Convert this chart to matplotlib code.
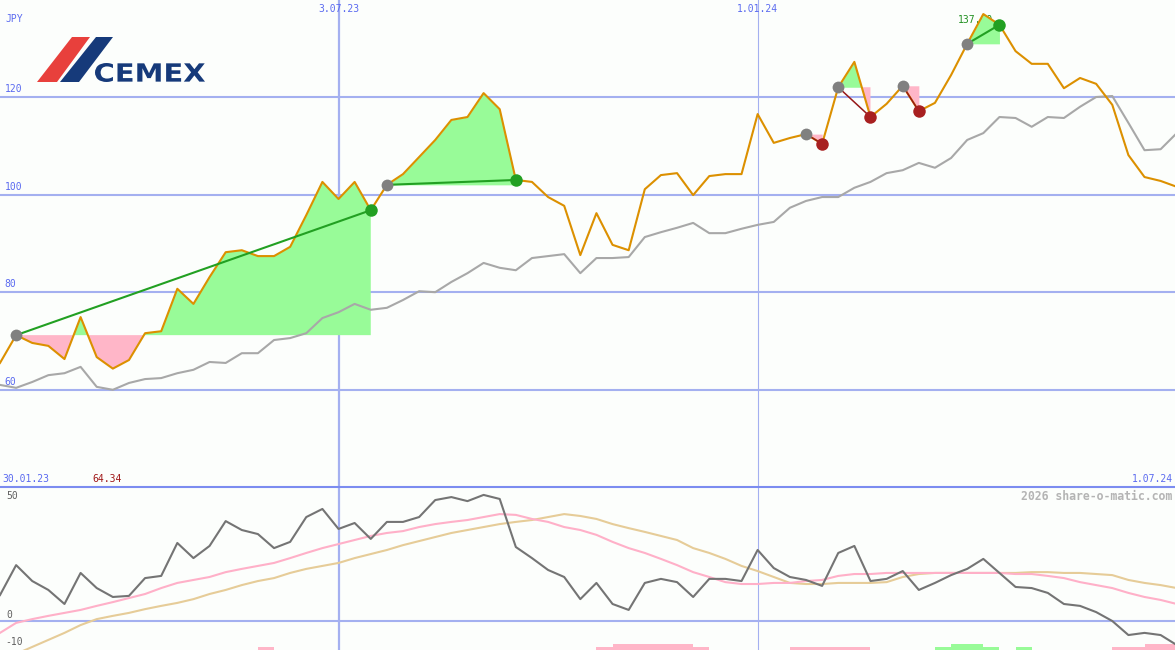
import matplotlib
matplotlib.use("Agg")
import matplotlib.pyplot as plt
import matplotlib.transforms as mtransforms
from matplotlib.patches import Polygon, PathPatch
from matplotlib.textpath import TextPath
from matplotlib.font_manager import FontProperties
import numpy as np

# weekly closes (JPY), one per week starting 6.02.23
price = [65.5, 71.2, 69.6, 69.0, 66.3, 74.9, 66.7, 64.34, 66.1, 71.6,
         72.0, 80.7, 77.6, 83.1, 88.2, 88.6, 87.4, 87.4, 89.3, 95.8,
         102.6, 99.1, 102.6, 96.8, 102.0, 104.2, 107.7, 111.2, 115.3, 115.9,
         120.8, 117.5, 103.0, 102.6, 99.5, 97.7, 87.6, 96.2, 89.7, 88.6,
         101.1, 104.0, 104.4, 99.9, 103.8, 104.2, 104.2, 116.5, 110.6, 111.6,
         112.4, 110.4, 122.0, 127.2, 115.9, 118.6, 122.3, 117.1, 118.8, 124.5,
         130.9, 137.0, 134.8, 129.4, 126.8, 126.8, 121.8, 123.9, 122.7, 118.4,
         108.1, 103.6, 102.8, 101.6]

# moving average (grey line)
avg = [61.0, 60.4, 61.6, 63.0, 63.4, 64.7, 60.6, 60.0, 61.4, 62.2,
       62.4, 63.4, 64.1, 65.7, 65.5, 67.5, 67.5, 70.2, 70.6, 71.6,
       74.7, 75.9, 77.6, 76.4, 76.8, 78.4, 80.2, 80.0, 82.1, 83.9,
       86.0, 85.0, 84.5, 87.0, 87.4, 87.8, 83.9, 87.0, 87.0, 87.2,
       91.3, 92.3, 93.2, 94.2, 92.1, 92.1, 93.0, 93.8, 94.4, 97.3,
       98.7, 99.5, 99.5, 101.4, 102.6, 104.4, 105.0, 106.5, 105.5, 107.5,
       111.2, 112.6, 115.9, 115.7, 113.9, 115.9, 115.7, 118.0, 120.0, 120.2,
       114.7, 109.1, 109.3, 112.6]

# lower panel oscillator and its two smoothings
osc = [9.6, 20.7, 14.8, 11.5, 6.3, 17.8, 12.2, 8.9, 9.3, 15.9,
       16.7, 28.9, 23.3, 27.8, 37.0, 33.7, 32.2, 27.0, 29.3, 38.5,
       41.5, 34.1, 36.3, 30.4, 36.7, 36.7, 38.5, 44.8, 45.9, 44.4,
       46.7, 45.2, 27.4, 23.3, 18.9, 16.3, 8.1, 14.1, 6.3, 4.1,
       14.1, 15.6, 14.4, 8.9, 15.6, 15.6, 14.8, 26.3, 19.6, 16.3,
       15.2, 13.0, 25.2, 27.8, 14.8, 15.6, 18.5, 11.5, 14.1, 17.0,
       19.3, 23.0, 17.8, 12.6, 12.2, 10.4, 6.3, 5.6, 3.3, 0.0,
       -5.2, -4.4, -5.2, -8.9]

osc_fast = [-4.4, -0.7, 0.7, 1.9, 3.0, 4.1, 5.6, 7.0, 8.5, 10.0,
            12.2, 14.1, 15.2, 16.3, 18.1, 19.3, 20.4, 21.5, 23.3, 25.2,
            27.0, 28.5, 30.0, 31.5, 32.6, 33.3, 34.8, 35.9, 36.7, 37.4,
            38.5, 39.6, 39.3, 37.8, 36.7, 34.8, 33.7, 31.9, 29.3, 27.0,
            25.2, 23.0, 20.7, 18.1, 16.3, 14.4, 13.7, 13.7, 14.1, 14.1,
            14.8, 15.2, 16.7, 17.4, 17.4, 17.8, 17.8, 17.8, 17.8, 17.8,
            17.8, 17.8, 17.8, 17.4, 17.4, 16.7, 15.9, 14.4, 13.3, 12.2,
            10.4, 8.9, 7.8, 6.3]

osc_slow = [-15.2, -12.2, -9.6, -7.0, -4.4, -1.5, 0.7, 1.9, 3.0, 4.4,
            5.6, 6.7, 8.1, 10.0, 11.5, 13.3, 14.8, 15.9, 17.8, 19.3,
            20.4, 21.5, 23.3, 24.8, 26.3, 28.1, 29.6, 31.1, 32.6, 33.7,
            34.8, 35.9, 36.7, 37.4, 38.5, 39.6, 38.9, 37.8, 35.9, 34.4,
            33.0, 31.5, 30.0, 27.0, 25.2, 23.0, 20.4, 18.5, 16.3, 14.1,
            13.7, 13.7, 14.1, 14.1, 14.1, 14.4, 16.3, 17.4, 17.8, 17.8,
            17.8, 17.8, 17.8, 17.8, 18.1, 18.1, 17.8, 17.8, 17.4, 17.0,
            15.2, 14.1, 13.3, 12.2]

# histogram bars at the bottom edge (week, top value, up?)
hist_k = [16, 37, 38, 39, 40, 41, 42, 43, 49, 50, 51, 52, 53,
          58, 59, 60, 61, 63, 69, 70, 71, 72]
hist_top = [-9.6, -9.6, -8.5, -8.5, -8.5, -8.5, -8.5, -9.6, -9.6, -9.6, -9.6, -9.6, -9.6,
            -9.6, -8.5, -8.5, -9.6, -9.6, -9.6, -9.6, -8.5, -8.5]
hist_up = [False] * 13 + [True] * 5 + [False] * 4

# trend segments (start week, end week)
seg_start = [1, 24, 50, 52, 56, 60]
seg_end = [23, 32, 51, 54, 57, 62]

vline_k = [21, 47]
vline_labels = ["3.07.23", "1.01.24"]
first_date = "30.01.23"
last_date = "1.07.24"

BG = "#fcfefc"
GRID = "#a4b0f0"
BLUE_TXT = "#5a6af0"
ORANGE = "#dc9000"
GREY = "#a8a8a8"
GFILL = "#98fb98"
PFILL = "#ffb6c8"
GDOT = "#22a022"
RDOT = "#a82020"
MONO = "DejaVu Sans Mono"

W, H = 1175, 650
PX = 16.12  # pixels per week

fig = plt.figure(figsize=(W / 100, H / 100), dpi=100)
fig.patch.set_facecolor(BG)
ax = fig.add_axes([0, 163 / H, 1, 487 / H])
ax2 = fig.add_axes([0, 0, 1, 163 / H])
for a in (ax, ax2):
    a.set_facecolor(BG)
    a.set_xlim(0, W / PX)
    a.axis("off")
ax.set_ylim(40.08, 139.88)
ax2.set_ylim(-10.74, 49.63)

x = np.arange(len(price))
p = np.array(price)

# grid
for v in [60, 80, 100, 120]:
    ax.axhline(v, color=GRID, lw=1.5, zorder=1)
    ax.text(0.004, v + 0.6, str(v), transform=mtransforms.blended_transform_factory(ax.transAxes, ax.transData),
            fontsize=7, family=MONO, color=BLUE_TXT, va="bottom", ha="left", zorder=6)
ax2.axhline(0, color=GRID, lw=1.5, zorder=1)
for k, lw in zip(vline_k, [1.6, 0.8]):
    ax.axvline(k, color=GRID, lw=lw, zorder=1)
    ax2.axvline(k, color=GRID, lw=lw, zorder=1)

tr = mtransforms.blended_transform_factory(ax.transData, ax.transAxes)
for k, lab in zip(vline_k, vline_labels):
    ax.text(k, 1 - 9 / 487, lab, transform=tr, ha="center", va="center",
            fontsize=7, family=MONO, color=BLUE_TXT)

# trend fills and lines
for s, e in zip(seg_start, seg_end):
    xs = x[s:e + 1]
    ys = p[s:e + 1]
    base = p[s]
    ax.fill_between(xs, ys, base, where=ys >= base, interpolate=True, color=GFILL, lw=0, zorder=2)
    ax.fill_between(xs, ys, base, where=ys <= base, interpolate=True, color=PFILL, lw=0, zorder=2)

ax.plot(x, avg, color=GREY, lw=1.5, zorder=3)
ax.plot(x, p, color=ORANGE, lw=1.5, zorder=4)

for s, e in zip(seg_start, seg_end):
    up = p[e] >= p[s]
    ax.plot([s, e], [p[s], p[e]], color=GDOT if up else "#961818", lw=1.5 if up else 1.1, zorder=5)
    ax.plot(s, p[s], "o", color="#808080", ms=8.5, mew=0, zorder=6)
    ax.plot(e, p[e], "o", color=GDOT if up else RDOT, ms=9, mew=0, zorder=6)

kmin = int(np.argmin(p))
kmax = int(np.argmax(p))
ax.text(kmin - 0.35, 8 / 487, f"{p[kmin]:.2f}", transform=tr, ha="center", va="center",
        fontsize=7, family=MONO, color="#a01818", zorder=6)
ax.text(kmax - 1.55, 1 - 20 / 487, f"{p[kmax]:.2f}", transform=tr, ha="left", va="center",
        fontsize=7, family=MONO, color="#209020", zorder=1.5)

ax.text(0.002, 8 / 487, first_date, transform=ax.transAxes, ha="left", va="center",
        fontsize=7, family=MONO, color=BLUE_TXT)
ax.text(0.998, 8 / 487, last_date, transform=ax.transAxes, ha="right", va="center",
        fontsize=7, family=MONO, color=BLUE_TXT)

# lower panel
ax2.bar(hist_k, np.array(hist_top) + 15, bottom=-15, width=1, align="edge",
        color=[GFILL if u else PFILL for u in hist_up], lw=0, zorder=2)
ax2.plot(x, osc_slow, color="#e6cc98", lw=1.5, zorder=3)
ax2.plot(x, osc_fast, color="#ffb0c8", lw=1.5, zorder=3)
ax2.plot(x, osc, color="#747474", lw=1.5, zorder=4)

# overlay in pixel coordinates for logo, separators and labels
ov = fig.add_axes([0, 0, 1, 1], zorder=10)
ov.set_xlim(0, W)
ov.set_ylim(H, 0)
ov.axis("off")
ov.patch.set_alpha(0)
ov.plot([0, W], [487, 487], color="#7c8cf0", lw=1.5)
ov.text(5, 19, "JPY", fontsize=7, family=MONO, color=BLUE_TXT, va="center", ha="left")
ov.text(6, 496, "50", fontsize=7, family=MONO, color="#606060", va="center", ha="left")
ov.text(6, 615, "0", fontsize=7, family=MONO, color="#606060", va="center", ha="left")
ov.text(5, 642, "-10", fontsize=7, family=MONO, color="#606060", va="center", ha="left")
ov.text(1172, 496, "2026 share-o-matic.com", fontsize=8.3, family=MONO, weight="bold",
        color="#b4b4b4", va="center", ha="right")

# logo
ov.add_patch(Polygon([(37, 82), (57, 82), (90, 37), (72, 37)], closed=True, color="#e8403c", lw=0))
ov.add_patch(Polygon([(60, 82), (79, 82), (113, 37), (96, 37)], closed=True, color="#163a7a", lw=0))
tp = TextPath((0, 0), "CEMEX", size=10, prop=FontProperties(family="DejaVu Sans", weight="bold"))
ext = tp.get_extents()
sx = (205 - 95) / ext.width
sy = (82 - 63) / ext.height
logo_tf = mtransforms.Affine2D().translate(-ext.x0, -ext.y0).scale(sx, -sy).translate(95, 82)
ov.add_patch(PathPatch(logo_tf.transform_path(tp), color="#163a7a", lw=0))

fig.savefig("out.png", dpi=100, facecolor=BG)
